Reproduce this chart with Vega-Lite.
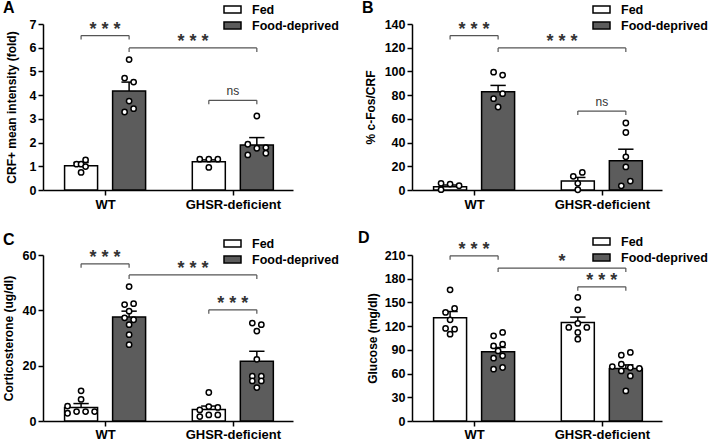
{
  "$schema": "https://vega.github.io/schema/vega-lite/v6.json",
  "background": "white",
  "padding": {"left": 2, "top": 0, "right": 0, "bottom": 0},
  "columns": 2,
  "spacing": {"row": 65, "column": 119},
  "bounds": "flush",
  "resolve": {"scale": {"fill": "independent"}, "legend": {"fill": "independent"}},
  "datasets": {
    "bars": [
      {"panel": "A", "group": "WT", "cond": "Fed", "mean": 1.02, "sem": 0.14},
      {"panel": "A", "group": "WT", "cond": "Food-deprived", "mean": 4.17, "sem": 0.38},
      {"panel": "A", "group": "GHSR-deficient", "cond": "Fed", "mean": 1.19, "sem": 0.08},
      {"panel": "A", "group": "GHSR-deficient", "cond": "Food-deprived", "mean": 1.9, "sem": 0.31},
      {"panel": "B", "group": "WT", "cond": "Fed", "mean": 2.8, "sem": 1.4},
      {"panel": "B", "group": "WT", "cond": "Food-deprived", "mean": 82.9, "sem": 5.3},
      {"panel": "B", "group": "GHSR-deficient", "cond": "Fed", "mean": 7.6, "sem": 3.0},
      {"panel": "B", "group": "GHSR-deficient", "cond": "Food-deprived", "mean": 24.6, "sem": 9.8},
      {"panel": "C", "group": "WT", "cond": "Fed", "mean": 4.9, "sem": 1.4},
      {"panel": "C", "group": "WT", "cond": "Food-deprived", "mean": 37.6, "sem": 2.1},
      {"panel": "C", "group": "GHSR-deficient", "cond": "Fed", "mean": 4.2, "sem": 1.2},
      {"panel": "C", "group": "GHSR-deficient", "cond": "Food-deprived", "mean": 21.6, "sem": 3.6},
      {"panel": "D", "group": "WT", "cond": "Fed", "mean": 130.5, "sem": 8.0},
      {"panel": "D", "group": "WT", "cond": "Food-deprived", "mean": 87.5, "sem": 5.5},
      {"panel": "D", "group": "GHSR-deficient", "cond": "Fed", "mean": 124.5, "sem": 7.0},
      {"panel": "D", "group": "GHSR-deficient", "cond": "Food-deprived", "mean": 66.4, "sem": 4.6}
    ],
    "dots": [
      {"panel": "A", "group": "WT", "cond": "Fed", "value": 1.09, "jitter": -1},
      {"panel": "A", "group": "WT", "cond": "Fed", "value": 1.09, "jitter": 0},
      {"panel": "A", "group": "WT", "cond": "Fed", "value": 1.27, "jitter": 1},
      {"panel": "A", "group": "WT", "cond": "Fed", "value": 0.99, "jitter": 1},
      {"panel": "A", "group": "WT", "cond": "Fed", "value": 0.74, "jitter": 0},
      {"panel": "A", "group": "WT", "cond": "Food-deprived", "value": 5.5, "jitter": 0},
      {"panel": "A", "group": "WT", "cond": "Food-deprived", "value": 4.72, "jitter": -1},
      {"panel": "A", "group": "WT", "cond": "Food-deprived", "value": 4.55, "jitter": 1},
      {"panel": "A", "group": "WT", "cond": "Food-deprived", "value": 3.75, "jitter": 0},
      {"panel": "A", "group": "WT", "cond": "Food-deprived", "value": 3.29, "jitter": -1},
      {"panel": "A", "group": "WT", "cond": "Food-deprived", "value": 3.43, "jitter": 1},
      {"panel": "A", "group": "GHSR-deficient", "cond": "Fed", "value": 1.3, "jitter": -2},
      {"panel": "A", "group": "GHSR-deficient", "cond": "Fed", "value": 1.3, "jitter": 0},
      {"panel": "A", "group": "GHSR-deficient", "cond": "Fed", "value": 1.3, "jitter": 2},
      {"panel": "A", "group": "GHSR-deficient", "cond": "Fed", "value": 0.95, "jitter": 0},
      {"panel": "A", "group": "GHSR-deficient", "cond": "Food-deprived", "value": 3.12, "jitter": 0},
      {"panel": "A", "group": "GHSR-deficient", "cond": "Food-deprived", "value": 1.93, "jitter": -2},
      {"panel": "A", "group": "GHSR-deficient", "cond": "Food-deprived", "value": 1.76, "jitter": 0},
      {"panel": "A", "group": "GHSR-deficient", "cond": "Food-deprived", "value": 1.79, "jitter": 2},
      {"panel": "A", "group": "GHSR-deficient", "cond": "Food-deprived", "value": 1.48, "jitter": -2},
      {"panel": "A", "group": "GHSR-deficient", "cond": "Food-deprived", "value": 1.55, "jitter": 2},
      {"panel": "B", "group": "WT", "cond": "Fed", "value": 5.6, "jitter": -2},
      {"panel": "B", "group": "WT", "cond": "Fed", "value": 5.0, "jitter": 0},
      {"panel": "B", "group": "WT", "cond": "Fed", "value": 3.6, "jitter": 2},
      {"panel": "B", "group": "WT", "cond": "Fed", "value": 0.3, "jitter": -2},
      {"panel": "B", "group": "WT", "cond": "Food-deprived", "value": 99.4, "jitter": -1},
      {"panel": "B", "group": "WT", "cond": "Food-deprived", "value": 96.9, "jitter": 1},
      {"panel": "B", "group": "WT", "cond": "Food-deprived", "value": 81.2, "jitter": 1},
      {"panel": "B", "group": "WT", "cond": "Food-deprived", "value": 77, "jitter": -1},
      {"panel": "B", "group": "WT", "cond": "Food-deprived", "value": 70, "jitter": 0},
      {"panel": "B", "group": "GHSR-deficient", "cond": "Fed", "value": 11.5, "jitter": -1},
      {"panel": "B", "group": "GHSR-deficient", "cond": "Fed", "value": 14.8, "jitter": 1},
      {"panel": "B", "group": "GHSR-deficient", "cond": "Fed", "value": 5.6, "jitter": 0},
      {"panel": "B", "group": "GHSR-deficient", "cond": "Fed", "value": 0.2, "jitter": 0},
      {"panel": "B", "group": "GHSR-deficient", "cond": "Food-deprived", "value": 56.5, "jitter": 0},
      {"panel": "B", "group": "GHSR-deficient", "cond": "Food-deprived", "value": 48.5, "jitter": 0},
      {"panel": "B", "group": "GHSR-deficient", "cond": "Food-deprived", "value": 28, "jitter": 0},
      {"panel": "B", "group": "GHSR-deficient", "cond": "Food-deprived", "value": 19.5, "jitter": 0},
      {"panel": "B", "group": "GHSR-deficient", "cond": "Food-deprived", "value": 7.5, "jitter": 1},
      {"panel": "B", "group": "GHSR-deficient", "cond": "Food-deprived", "value": 3.5, "jitter": -1},
      {"panel": "C", "group": "WT", "cond": "Fed", "value": 10.9, "jitter": 0},
      {"panel": "C", "group": "WT", "cond": "Fed", "value": 7.8, "jitter": 0},
      {"panel": "C", "group": "WT", "cond": "Fed", "value": 5.4, "jitter": -3},
      {"panel": "C", "group": "WT", "cond": "Fed", "value": 2.8, "jitter": -3},
      {"panel": "C", "group": "WT", "cond": "Fed", "value": 3.4, "jitter": -1},
      {"panel": "C", "group": "WT", "cond": "Fed", "value": 3.4, "jitter": 1},
      {"panel": "C", "group": "WT", "cond": "Fed", "value": 3.4, "jitter": 3},
      {"panel": "C", "group": "WT", "cond": "Food-deprived", "value": 48.6, "jitter": 0},
      {"panel": "C", "group": "WT", "cond": "Food-deprived", "value": 42.1, "jitter": -1},
      {"panel": "C", "group": "WT", "cond": "Food-deprived", "value": 42.4, "jitter": 1},
      {"panel": "C", "group": "WT", "cond": "Food-deprived", "value": 39.7, "jitter": 0},
      {"panel": "C", "group": "WT", "cond": "Food-deprived", "value": 37.3, "jitter": -1},
      {"panel": "C", "group": "WT", "cond": "Food-deprived", "value": 36.6, "jitter": 1},
      {"panel": "C", "group": "WT", "cond": "Food-deprived", "value": 34.8, "jitter": 0},
      {"panel": "C", "group": "WT", "cond": "Food-deprived", "value": 31.2, "jitter": 0},
      {"panel": "C", "group": "WT", "cond": "Food-deprived", "value": 27.6, "jitter": 0},
      {"panel": "C", "group": "GHSR-deficient", "cond": "Fed", "value": 10.3, "jitter": 0},
      {"panel": "C", "group": "GHSR-deficient", "cond": "Fed", "value": 5.2, "jitter": 0},
      {"panel": "C", "group": "GHSR-deficient", "cond": "Fed", "value": 4.0, "jitter": -2},
      {"panel": "C", "group": "GHSR-deficient", "cond": "Fed", "value": 4.9, "jitter": 2},
      {"panel": "C", "group": "GHSR-deficient", "cond": "Fed", "value": 1.6, "jitter": -2},
      {"panel": "C", "group": "GHSR-deficient", "cond": "Fed", "value": 2.2, "jitter": 0},
      {"panel": "C", "group": "GHSR-deficient", "cond": "Fed", "value": 2.2, "jitter": 2},
      {"panel": "C", "group": "GHSR-deficient", "cond": "Food-deprived", "value": 35.4, "jitter": -1},
      {"panel": "C", "group": "GHSR-deficient", "cond": "Food-deprived", "value": 34.8, "jitter": 1},
      {"panel": "C", "group": "GHSR-deficient", "cond": "Food-deprived", "value": 32.5, "jitter": 0},
      {"panel": "C", "group": "GHSR-deficient", "cond": "Food-deprived", "value": 22.3, "jitter": 0},
      {"panel": "C", "group": "GHSR-deficient", "cond": "Food-deprived", "value": 16.2, "jitter": -1},
      {"panel": "C", "group": "GHSR-deficient", "cond": "Food-deprived", "value": 16.2, "jitter": 1},
      {"panel": "C", "group": "GHSR-deficient", "cond": "Food-deprived", "value": 14.5, "jitter": -1},
      {"panel": "C", "group": "GHSR-deficient", "cond": "Food-deprived", "value": 14.5, "jitter": 1},
      {"panel": "C", "group": "GHSR-deficient", "cond": "Food-deprived", "value": 12.1, "jitter": 0},
      {"panel": "D", "group": "WT", "cond": "Fed", "value": 166, "jitter": 0},
      {"panel": "D", "group": "WT", "cond": "Fed", "value": 137.4, "jitter": -1},
      {"panel": "D", "group": "WT", "cond": "Fed", "value": 142.4, "jitter": 1},
      {"panel": "D", "group": "WT", "cond": "Fed", "value": 128, "jitter": 0},
      {"panel": "D", "group": "WT", "cond": "Fed", "value": 117.1, "jitter": -1},
      {"panel": "D", "group": "WT", "cond": "Fed", "value": 116.2, "jitter": 1},
      {"panel": "D", "group": "WT", "cond": "Fed", "value": 109.9, "jitter": 0},
      {"panel": "D", "group": "WT", "cond": "Food-deprived", "value": 107.7, "jitter": -1},
      {"panel": "D", "group": "WT", "cond": "Food-deprived", "value": 112, "jitter": 1},
      {"panel": "D", "group": "WT", "cond": "Food-deprived", "value": 95, "jitter": -1},
      {"panel": "D", "group": "WT", "cond": "Food-deprived", "value": 97.2, "jitter": 1},
      {"panel": "D", "group": "WT", "cond": "Food-deprived", "value": 88.7, "jitter": 0},
      {"panel": "D", "group": "WT", "cond": "Food-deprived", "value": 79.5, "jitter": -1},
      {"panel": "D", "group": "WT", "cond": "Food-deprived", "value": 82.4, "jitter": 1},
      {"panel": "D", "group": "WT", "cond": "Food-deprived", "value": 65.5, "jitter": -1},
      {"panel": "D", "group": "WT", "cond": "Food-deprived", "value": 67.7, "jitter": 1},
      {"panel": "D", "group": "GHSR-deficient", "cond": "Fed", "value": 156.4, "jitter": 0},
      {"panel": "D", "group": "GHSR-deficient", "cond": "Fed", "value": 140.7, "jitter": 0},
      {"panel": "D", "group": "GHSR-deficient", "cond": "Fed", "value": 123.4, "jitter": 0},
      {"panel": "D", "group": "GHSR-deficient", "cond": "Fed", "value": 118.4, "jitter": -2},
      {"panel": "D", "group": "GHSR-deficient", "cond": "Fed", "value": 118.4, "jitter": 2},
      {"panel": "D", "group": "GHSR-deficient", "cond": "Fed", "value": 112, "jitter": 0},
      {"panel": "D", "group": "GHSR-deficient", "cond": "Fed", "value": 103.5, "jitter": 0},
      {"panel": "D", "group": "GHSR-deficient", "cond": "Food-deprived", "value": 83.3, "jitter": -1},
      {"panel": "D", "group": "GHSR-deficient", "cond": "Food-deprived", "value": 86.7, "jitter": 1},
      {"panel": "D", "group": "GHSR-deficient", "cond": "Food-deprived", "value": 68.9, "jitter": -3},
      {"panel": "D", "group": "GHSR-deficient", "cond": "Food-deprived", "value": 71.9, "jitter": -1},
      {"panel": "D", "group": "GHSR-deficient", "cond": "Food-deprived", "value": 67.7, "jitter": 1},
      {"panel": "D", "group": "GHSR-deficient", "cond": "Food-deprived", "value": 66.4, "jitter": 3},
      {"panel": "D", "group": "GHSR-deficient", "cond": "Food-deprived", "value": 63.4, "jitter": -1},
      {"panel": "D", "group": "GHSR-deficient", "cond": "Food-deprived", "value": 57, "jitter": 1},
      {"panel": "D", "group": "GHSR-deficient", "cond": "Food-deprived", "value": 38, "jitter": 0}
    ],
    "brackets": [
      {"panel": "A", "g1": "WT", "c1": "Fed", "g2": "WT", "c2": "Food-deprived", "level": 6.51, "label": "***"},
      {"panel": "A", "g1": "WT", "c1": "Food-deprived", "g2": "GHSR-deficient", "c2": "Food-deprived", "level": 5.99, "label": "***"},
      {"panel": "A", "g1": "GHSR-deficient", "c1": "Fed", "g2": "GHSR-deficient", "c2": "Food-deprived", "level": 3.78, "label": "ns"},
      {"panel": "B", "g1": "WT", "c1": "Fed", "g2": "WT", "c2": "Food-deprived", "level": 130.2, "label": "***"},
      {"panel": "B", "g1": "WT", "c1": "Food-deprived", "g2": "GHSR-deficient", "c2": "Food-deprived", "level": 119.8, "label": "***"},
      {"panel": "B", "g1": "GHSR-deficient", "c1": "Fed", "g2": "GHSR-deficient", "c2": "Food-deprived", "level": 66.6, "label": "ns"},
      {"panel": "C", "g1": "WT", "c1": "Fed", "g2": "WT", "c2": "Food-deprived", "level": 56.8, "label": "***"},
      {"panel": "C", "g1": "WT", "c1": "Food-deprived", "g2": "GHSR-deficient", "c2": "Food-deprived", "level": 52.8, "label": "***"},
      {"panel": "C", "g1": "GHSR-deficient", "c1": "Fed", "g2": "GHSR-deficient", "c2": "Food-deprived", "level": 40.2, "label": "***"},
      {"panel": "D", "g1": "WT", "c1": "Fed", "g2": "WT", "c2": "Food-deprived", "level": 209, "label": "***"},
      {"panel": "D", "g1": "WT", "c1": "Food-deprived", "g2": "GHSR-deficient", "c2": "Food-deprived", "level": 193.5, "label": "*"},
      {"panel": "D", "g1": "GHSR-deficient", "c1": "Fed", "g2": "GHSR-deficient", "c2": "Food-deprived", "level": 169.8, "label": "***"}
    ]
  },
  "concat": [
    {
      "width": 250, "height": 166,
      "title": {"text": "A", "anchor": "start", "frame": "group", "dx": -40, "dy": 22, "fontSize": 16, "fontWeight": "bold", "offset": 6},
      "layer": [
        {
          "data": {"name": "bars"},
          "transform": [{"filter": "datum.panel == 'A'"}, {"calculate": "(datum.group == 'WT' ? 0 : 1) + (datum.cond == 'Fed' ? -0.188 : 0.188)", "as": "xc"}],
          "mark": {"type": "bar", "width": 33, "stroke": "black", "strokeWidth": 1.5, "orient": "vertical"},
          "encoding": {
            "x": {"field": "xc", "type": "quantitative", "scale": {"domain": [-0.447, 1.432], "nice": false, "zero": false}, "axis": {"values": [0, 1], "tickCount": 10, "labelExpr": "datum.value == 0 ? 'WT' : 'GHSR-deficient'", "title": null, "labelFontSize": 13, "labelPadding": 3}},
            "y": {"field": "mean", "type": "quantitative", "scale": {"domain": [0, 7], "nice": false}, "axis": {"values": [0, 1, 2, 3, 4, 5, 6, 7], "tickCount": 20, "format": "d", "labelOverlap": false, "title": "CRF+ mean intensity (fold)", "titlePadding": 11}},
            "fill": {"field": "cond", "type": "nominal", "scale": {"domain": ["Fed", "Food-deprived"], "range": ["white", "#5c5c5c"]}, "legend": {"orient": "none", "legendX": 180, "legendY": -24, "title": null, "symbolType": "M-1,-0.4H1V0.4H-1Z"}}
          }
        },
        {
          "data": {"name": "bars"},
          "transform": [{"filter": "datum.panel == 'A'"}, {"calculate": "(datum.group == 'WT' ? 0 : 1) + (datum.cond == 'Fed' ? -0.188 : 0.188)", "as": "xc"}, {"calculate": "datum.mean + datum.sem", "as": "hi"}, {"calculate": "datum.xc - 0.06", "as": "xl"}, {"calculate": "datum.xc + 0.06", "as": "xr"}],
          "layer": [
            {"mark": {"type": "rule", "stroke": "black", "strokeWidth": 1.5}, "encoding": {"x": {"field": "xc", "type": "quantitative"}, "y": {"field": "mean", "type": "quantitative"}, "y2": {"field": "hi"}}},
            {"mark": {"type": "rule", "stroke": "black", "strokeWidth": 1.5}, "encoding": {"x": {"field": "xl", "type": "quantitative"}, "x2": {"field": "xr"}, "y": {"field": "hi", "type": "quantitative"}}}
          ]
        },
        {
          "data": {"name": "dots"},
          "transform": [{"filter": "datum.panel == 'A'"}, {"calculate": "(datum.group == 'WT' ? 0 : 1) + (datum.cond == 'Fed' ? -0.188 : 0.188) + datum.jitter * 0.0353", "as": "xd"}],
          "mark": {"type": "point", "shape": "circle", "filled": true, "fill": "white", "stroke": "black", "strokeWidth": 1.5, "size": 28, "opacity": 1},
          "encoding": {"x": {"field": "xd", "type": "quantitative"}, "y": {"field": "value", "type": "quantitative"}}
        },
        {
          "data": {"name": "brackets"},
          "transform": [{"filter": "datum.panel == 'A'"}, {"calculate": "(datum.g1 == 'WT' ? 0 : 1) + (datum.c1 == 'Fed' ? -0.188 : 0.188)", "as": "xa"}, {"calculate": "(datum.g2 == 'WT' ? 0 : 1) + (datum.c2 == 'Fed' ? -0.188 : 0.188)", "as": "xb"}, {"calculate": "(datum.xa + datum.xb) / 2", "as": "xm"}, {"calculate": "join(split(datum.label, ''), ' ')", "as": "txt"}],
          "layer": [
            {"mark": {"type": "rule", "stroke": "#555555", "strokeWidth": 1.2}, "encoding": {"x": {"field": "xa", "type": "quantitative"}, "x2": {"field": "xb"}, "y": {"field": "level", "type": "quantitative"}}},
            {"transform": [{"fold": ["xa", "xb"], "as": ["end", "xe"]}], "mark": {"type": "rule", "stroke": "#555555", "strokeWidth": 1.2, "y2Offset": 4}, "encoding": {"x": {"field": "xe", "type": "quantitative"}, "y": {"field": "level", "type": "quantitative"}, "y2": {"field": "level"}}},
            {"transform": [{"filter": "datum.label != 'ns'"}], "mark": {"type": "text", "fontSize": 18, "fontWeight": "bold", "fill": "#333333", "baseline": "middle", "dy": -6}, "encoding": {"x": {"field": "xm", "type": "quantitative"}, "y": {"field": "level", "type": "quantitative"}, "text": {"field": "txt"}}},
            {"transform": [{"filter": "datum.label == 'ns'"}], "mark": {"type": "text", "fontSize": 12, "fill": "#333333", "baseline": "middle", "dy": -9}, "encoding": {"x": {"field": "xm", "type": "quantitative"}, "y": {"field": "level", "type": "quantitative"}, "text": {"field": "label"}}}
          ]
        }
      ]
    },
    {
      "width": 250, "height": 166,
      "title": {"text": "B", "anchor": "start", "frame": "group", "dx": -50, "dy": 22, "fontSize": 16, "fontWeight": "bold", "offset": 6},
      "layer": [
        {
          "data": {"name": "bars"},
          "transform": [{"filter": "datum.panel == 'B'"}, {"calculate": "(datum.group == 'WT' ? 0 : 1) + (datum.cond == 'Fed' ? -0.188 : 0.188)", "as": "xc"}],
          "mark": {"type": "bar", "width": 33, "stroke": "black", "strokeWidth": 1.5, "orient": "vertical"},
          "encoding": {
            "x": {"field": "xc", "type": "quantitative", "scale": {"domain": [-0.447, 1.432], "nice": false, "zero": false}, "axis": {"values": [0, 1], "tickCount": 10, "labelExpr": "datum.value == 0 ? 'WT' : 'GHSR-deficient'", "title": null, "labelFontSize": 13, "labelPadding": 3}},
            "y": {"field": "mean", "type": "quantitative", "scale": {"domain": [0, 140], "nice": false}, "axis": {"values": [0, 20, 40, 60, 80, 100, 120, 140], "tickCount": 20, "format": "d", "labelOverlap": false, "title": "% c-Fos/CRF", "titlePadding": 7}},
            "fill": {"field": "cond", "type": "nominal", "scale": {"domain": ["Fed", "Food-deprived"], "range": ["white", "#5c5c5c"]}, "legend": {"orient": "none", "legendX": 180, "legendY": -24, "title": null, "symbolType": "M-1,-0.4H1V0.4H-1Z"}}
          }
        },
        {
          "data": {"name": "bars"},
          "transform": [{"filter": "datum.panel == 'B'"}, {"calculate": "(datum.group == 'WT' ? 0 : 1) + (datum.cond == 'Fed' ? -0.188 : 0.188)", "as": "xc"}, {"calculate": "datum.mean + datum.sem", "as": "hi"}, {"calculate": "datum.xc - 0.06", "as": "xl"}, {"calculate": "datum.xc + 0.06", "as": "xr"}],
          "layer": [
            {"mark": {"type": "rule", "stroke": "black", "strokeWidth": 1.5}, "encoding": {"x": {"field": "xc", "type": "quantitative"}, "y": {"field": "mean", "type": "quantitative"}, "y2": {"field": "hi"}}},
            {"mark": {"type": "rule", "stroke": "black", "strokeWidth": 1.5}, "encoding": {"x": {"field": "xl", "type": "quantitative"}, "x2": {"field": "xr"}, "y": {"field": "hi", "type": "quantitative"}}}
          ]
        },
        {
          "data": {"name": "dots"},
          "transform": [{"filter": "datum.panel == 'B'"}, {"calculate": "(datum.group == 'WT' ? 0 : 1) + (datum.cond == 'Fed' ? -0.188 : 0.188) + datum.jitter * 0.0353", "as": "xd"}],
          "mark": {"type": "point", "shape": "circle", "filled": true, "fill": "white", "stroke": "black", "strokeWidth": 1.5, "size": 28, "opacity": 1},
          "encoding": {"x": {"field": "xd", "type": "quantitative"}, "y": {"field": "value", "type": "quantitative"}}
        },
        {
          "data": {"name": "brackets"},
          "transform": [{"filter": "datum.panel == 'B'"}, {"calculate": "(datum.g1 == 'WT' ? 0 : 1) + (datum.c1 == 'Fed' ? -0.188 : 0.188)", "as": "xa"}, {"calculate": "(datum.g2 == 'WT' ? 0 : 1) + (datum.c2 == 'Fed' ? -0.188 : 0.188)", "as": "xb"}, {"calculate": "(datum.xa + datum.xb) / 2", "as": "xm"}, {"calculate": "join(split(datum.label, ''), ' ')", "as": "txt"}],
          "layer": [
            {"mark": {"type": "rule", "stroke": "#555555", "strokeWidth": 1.2}, "encoding": {"x": {"field": "xa", "type": "quantitative"}, "x2": {"field": "xb"}, "y": {"field": "level", "type": "quantitative"}}},
            {"transform": [{"fold": ["xa", "xb"], "as": ["end", "xe"]}], "mark": {"type": "rule", "stroke": "#555555", "strokeWidth": 1.2, "y2Offset": 4}, "encoding": {"x": {"field": "xe", "type": "quantitative"}, "y": {"field": "level", "type": "quantitative"}, "y2": {"field": "level"}}},
            {"transform": [{"filter": "datum.label != 'ns'"}], "mark": {"type": "text", "fontSize": 18, "fontWeight": "bold", "fill": "#333333", "baseline": "middle", "dy": -6}, "encoding": {"x": {"field": "xm", "type": "quantitative"}, "y": {"field": "level", "type": "quantitative"}, "text": {"field": "txt"}}},
            {"transform": [{"filter": "datum.label == 'ns'"}], "mark": {"type": "text", "fontSize": 12, "fill": "#333333", "baseline": "middle", "dy": -9}, "encoding": {"x": {"field": "xm", "type": "quantitative"}, "y": {"field": "level", "type": "quantitative"}, "text": {"field": "label"}}}
          ]
        }
      ]
    },
    {
      "width": 250, "height": 166,
      "title": {"text": "C", "anchor": "start", "frame": "group", "dx": -40, "dy": 20, "fontSize": 16, "fontWeight": "bold", "offset": 6},
      "layer": [
        {
          "data": {"name": "bars"},
          "transform": [{"filter": "datum.panel == 'C'"}, {"calculate": "(datum.group == 'WT' ? 0 : 1) + (datum.cond == 'Fed' ? -0.188 : 0.188)", "as": "xc"}],
          "mark": {"type": "bar", "width": 33, "stroke": "black", "strokeWidth": 1.5, "orient": "vertical"},
          "encoding": {
            "x": {"field": "xc", "type": "quantitative", "scale": {"domain": [-0.447, 1.432], "nice": false, "zero": false}, "axis": {"values": [0, 1], "tickCount": 10, "labelExpr": "datum.value == 0 ? 'WT' : 'GHSR-deficient'", "title": null, "labelFontSize": 13, "labelPadding": 2}},
            "y": {"field": "mean", "type": "quantitative", "scale": {"domain": [0, 60], "nice": false}, "axis": {"values": [0, 20, 40, 60], "tickCount": 20, "format": "d", "labelOverlap": false, "title": "Corticosterone (ug/dl)", "titlePadding": 7}},
            "fill": {"field": "cond", "type": "nominal", "scale": {"domain": ["Fed", "Food-deprived"], "range": ["white", "#5c5c5c"]}, "legend": {"orient": "none", "legendX": 180, "legendY": -21, "title": null, "symbolType": "M-1,-0.4H1V0.4H-1Z"}}
          }
        },
        {
          "data": {"name": "bars"},
          "transform": [{"filter": "datum.panel == 'C'"}, {"calculate": "(datum.group == 'WT' ? 0 : 1) + (datum.cond == 'Fed' ? -0.188 : 0.188)", "as": "xc"}, {"calculate": "datum.mean + datum.sem", "as": "hi"}, {"calculate": "datum.xc - 0.06", "as": "xl"}, {"calculate": "datum.xc + 0.06", "as": "xr"}],
          "layer": [
            {"mark": {"type": "rule", "stroke": "black", "strokeWidth": 1.5}, "encoding": {"x": {"field": "xc", "type": "quantitative"}, "y": {"field": "mean", "type": "quantitative"}, "y2": {"field": "hi"}}},
            {"mark": {"type": "rule", "stroke": "black", "strokeWidth": 1.5}, "encoding": {"x": {"field": "xl", "type": "quantitative"}, "x2": {"field": "xr"}, "y": {"field": "hi", "type": "quantitative"}}}
          ]
        },
        {
          "data": {"name": "dots"},
          "transform": [{"filter": "datum.panel == 'C'"}, {"calculate": "(datum.group == 'WT' ? 0 : 1) + (datum.cond == 'Fed' ? -0.188 : 0.188) + datum.jitter * 0.0353", "as": "xd"}],
          "mark": {"type": "point", "shape": "circle", "filled": true, "fill": "white", "stroke": "black", "strokeWidth": 1.5, "size": 28, "opacity": 1},
          "encoding": {"x": {"field": "xd", "type": "quantitative"}, "y": {"field": "value", "type": "quantitative"}}
        },
        {
          "data": {"name": "brackets"},
          "transform": [{"filter": "datum.panel == 'C'"}, {"calculate": "(datum.g1 == 'WT' ? 0 : 1) + (datum.c1 == 'Fed' ? -0.188 : 0.188)", "as": "xa"}, {"calculate": "(datum.g2 == 'WT' ? 0 : 1) + (datum.c2 == 'Fed' ? -0.188 : 0.188)", "as": "xb"}, {"calculate": "(datum.xa + datum.xb) / 2", "as": "xm"}, {"calculate": "join(split(datum.label, ''), ' ')", "as": "txt"}],
          "layer": [
            {"mark": {"type": "rule", "stroke": "#555555", "strokeWidth": 1.2}, "encoding": {"x": {"field": "xa", "type": "quantitative"}, "x2": {"field": "xb"}, "y": {"field": "level", "type": "quantitative"}}},
            {"transform": [{"fold": ["xa", "xb"], "as": ["end", "xe"]}], "mark": {"type": "rule", "stroke": "#555555", "strokeWidth": 1.2, "y2Offset": 4}, "encoding": {"x": {"field": "xe", "type": "quantitative"}, "y": {"field": "level", "type": "quantitative"}, "y2": {"field": "level"}}},
            {"transform": [{"filter": "datum.label != 'ns'"}], "mark": {"type": "text", "fontSize": 18, "fontWeight": "bold", "fill": "#333333", "baseline": "middle", "dy": -6}, "encoding": {"x": {"field": "xm", "type": "quantitative"}, "y": {"field": "level", "type": "quantitative"}, "text": {"field": "txt"}}}
          ]
        }
      ]
    },
    {
      "width": 250, "height": 166,
      "title": {"text": "D", "anchor": "start", "frame": "group", "dx": -54, "dy": 20, "fontSize": 16, "fontWeight": "bold", "offset": 6},
      "layer": [
        {
          "data": {"name": "bars"},
          "transform": [{"filter": "datum.panel == 'D'"}, {"calculate": "(datum.group == 'WT' ? 0 : 1) + (datum.cond == 'Fed' ? -0.188 : 0.188)", "as": "xc"}],
          "mark": {"type": "bar", "width": 33, "stroke": "black", "strokeWidth": 1.5, "orient": "vertical"},
          "encoding": {
            "x": {"field": "xc", "type": "quantitative", "scale": {"domain": [-0.447, 1.432], "nice": false, "zero": false}, "axis": {"values": [0, 1], "tickCount": 10, "labelExpr": "datum.value == 0 ? 'WT' : 'GHSR-deficient'", "title": null, "labelFontSize": 13, "labelPadding": 2}},
            "y": {"field": "mean", "type": "quantitative", "scale": {"domain": [0, 210], "nice": false}, "axis": {"values": [0, 30, 60, 90, 120, 150, 180, 210], "tickCount": 20, "format": "d", "labelOverlap": false, "title": "Glucose (mg/dl)", "titlePadding": 5}},
            "fill": {"field": "cond", "type": "nominal", "scale": {"domain": ["Fed", "Food-deprived"], "range": ["white", "#5c5c5c"]}, "legend": {"orient": "none", "legendX": 180, "legendY": -23, "title": null, "symbolType": "M-1,-0.4H1V0.4H-1Z"}}
          }
        },
        {
          "data": {"name": "bars"},
          "transform": [{"filter": "datum.panel == 'D'"}, {"calculate": "(datum.group == 'WT' ? 0 : 1) + (datum.cond == 'Fed' ? -0.188 : 0.188)", "as": "xc"}, {"calculate": "datum.mean + datum.sem", "as": "hi"}, {"calculate": "datum.xc - 0.06", "as": "xl"}, {"calculate": "datum.xc + 0.06", "as": "xr"}],
          "layer": [
            {"mark": {"type": "rule", "stroke": "black", "strokeWidth": 1.5}, "encoding": {"x": {"field": "xc", "type": "quantitative"}, "y": {"field": "mean", "type": "quantitative"}, "y2": {"field": "hi"}}},
            {"mark": {"type": "rule", "stroke": "black", "strokeWidth": 1.5}, "encoding": {"x": {"field": "xl", "type": "quantitative"}, "x2": {"field": "xr"}, "y": {"field": "hi", "type": "quantitative"}}}
          ]
        },
        {
          "data": {"name": "dots"},
          "transform": [{"filter": "datum.panel == 'D'"}, {"calculate": "(datum.group == 'WT' ? 0 : 1) + (datum.cond == 'Fed' ? -0.188 : 0.188) + datum.jitter * 0.0353", "as": "xd"}],
          "mark": {"type": "point", "shape": "circle", "filled": true, "fill": "white", "stroke": "black", "strokeWidth": 1.5, "size": 28, "opacity": 1},
          "encoding": {"x": {"field": "xd", "type": "quantitative"}, "y": {"field": "value", "type": "quantitative"}}
        },
        {
          "data": {"name": "brackets"},
          "transform": [{"filter": "datum.panel == 'D'"}, {"calculate": "(datum.g1 == 'WT' ? 0 : 1) + (datum.c1 == 'Fed' ? -0.188 : 0.188)", "as": "xa"}, {"calculate": "(datum.g2 == 'WT' ? 0 : 1) + (datum.c2 == 'Fed' ? -0.188 : 0.188)", "as": "xb"}, {"calculate": "(datum.xa + datum.xb) / 2", "as": "xm"}, {"calculate": "join(split(datum.label, ''), ' ')", "as": "txt"}],
          "layer": [
            {"mark": {"type": "rule", "stroke": "#555555", "strokeWidth": 1.2}, "encoding": {"x": {"field": "xa", "type": "quantitative"}, "x2": {"field": "xb"}, "y": {"field": "level", "type": "quantitative"}}},
            {"transform": [{"fold": ["xa", "xb"], "as": ["end", "xe"]}], "mark": {"type": "rule", "stroke": "#555555", "strokeWidth": 1.2, "y2Offset": 4}, "encoding": {"x": {"field": "xe", "type": "quantitative"}, "y": {"field": "level", "type": "quantitative"}, "y2": {"field": "level"}}},
            {"transform": [{"filter": "datum.label != 'ns'"}], "mark": {"type": "text", "fontSize": 18, "fontWeight": "bold", "fill": "#333333", "baseline": "middle", "dy": -6}, "encoding": {"x": {"field": "xm", "type": "quantitative"}, "y": {"field": "level", "type": "quantitative"}, "text": {"field": "txt"}}}
          ]
        }
      ]
    }
  ],
  "config": {
    "font": "Liberation Sans",
    "view": {"stroke": null},
    "title": {"font": "Liberation Sans", "color": "black"},
    "axis": {"grid": false, "domainColor": "black", "domainWidth": 1.5, "tickColor": "black", "tickWidth": 1.5, "tickSize": 5, "labelFont": "Liberation Sans", "labelFontWeight": "bold", "labelFontSize": 12.5, "labelColor": "black", "labelPadding": 2, "labelOverlap": false, "titleFont": "Liberation Sans", "titleFontWeight": "bold", "titleFontSize": 12, "titleColor": "black"},
    "legend": {"labelFont": "Liberation Sans", "labelFontWeight": "bold", "labelFontSize": 12.5, "labelColor": "black", "symbolSize": 289, "symbolStrokeColor": "black", "symbolStrokeWidth": 1.5, "labelOffset": 10, "rowPadding": 0, "padding": 0}
  }
}
